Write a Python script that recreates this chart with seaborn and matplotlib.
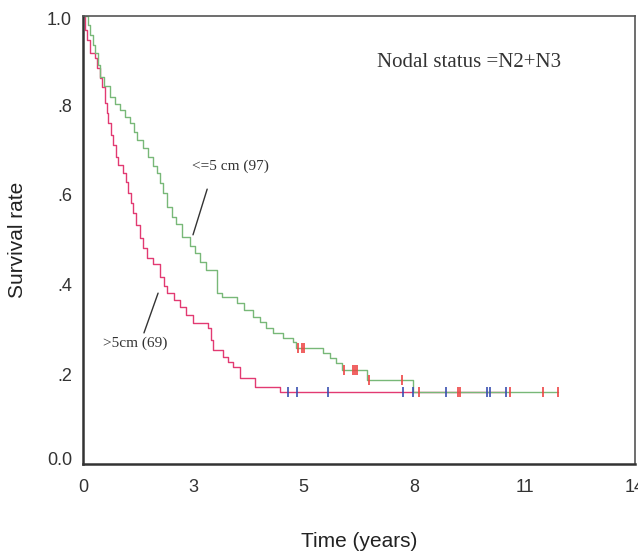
import numpy as np
import pandas as pd
import seaborn as sns
import matplotlib.pyplot as plt
import matplotlib.transforms as mtransforms

# <=5 cm group (97): step times (years) and survival after each step
small_t = [0, 0.12, 0.17, 0.25, 0.30, 0.37, 0.42, 0.52, 0.67, 0.80, 0.92, 1.05, 1.17,
           1.27, 1.34, 1.49, 1.62, 1.74, 1.84, 1.92, 1.99, 2.09, 2.22, 2.32, 2.47,
           2.66, 2.79, 2.91, 3.06, 3.34, 3.46, 3.84, 4.01, 4.23, 4.41, 4.56, 4.73,
           4.98, 5.23, 5.30, 5.98, 6.15, 6.30, 6.45, 7.07, 8.22]
small_s = [1.0, 0.979, 0.956, 0.934, 0.916, 0.890, 0.863, 0.843, 0.818, 0.803, 0.789,
           0.774, 0.760, 0.740, 0.722, 0.705, 0.685, 0.664, 0.649, 0.627, 0.604, 0.573,
           0.551, 0.535, 0.506, 0.486, 0.470, 0.450, 0.433, 0.381, 0.372, 0.359, 0.343,
           0.328, 0.317, 0.303, 0.292, 0.281, 0.272, 0.259, 0.247, 0.236, 0.225, 0.210,
           0.187, 0.161]
small_cens = [5.36, 5.45, 5.50, 6.50, 6.72, 6.77, 6.82, 7.12, 7.95, 8.37, 9.34, 9.39,
              10.63, 11.46, 11.83]

# >5 cm group (69)
large_t = [0, 0.05, 0.10, 0.17, 0.30, 0.35, 0.42, 0.47, 0.55, 0.60, 0.62, 0.70, 0.75,
           0.82, 0.87, 1.00, 1.07, 1.12, 1.20, 1.25, 1.32, 1.42, 1.49, 1.59, 1.74,
           1.92, 2.02, 2.09, 2.27, 2.42, 2.57, 2.74, 3.11, 3.19, 3.24, 3.49, 3.61,
           3.74, 3.91, 4.28, 4.91]
large_s = [1.0, 0.968, 0.945, 0.916, 0.905, 0.883, 0.861, 0.841, 0.805, 0.783, 0.760,
           0.734, 0.711, 0.685, 0.667, 0.649, 0.629, 0.604, 0.582, 0.560, 0.533, 0.504,
           0.482, 0.459, 0.446, 0.417, 0.397, 0.381, 0.366, 0.350, 0.332, 0.314, 0.303,
           0.276, 0.254, 0.239, 0.227, 0.216, 0.192, 0.172, 0.161]
large_cens = [5.11, 5.33, 6.10, 7.97, 8.22, 9.04, 10.06, 10.14, 10.54]

x_ticks = [0, 2.75, 5.5, 8.25, 11, 13.75]
x_labels = ["0", "3", "5", "8", "11", "14"]
y_ticks = [0, 0.2, 0.4, 0.6, 0.8, 1.0]
y_labels = ["0.0", ".2", ".4", ".6", ".8", "1.0"]


def curve(t, s, cens):
    t = np.array(t); s = np.array(s)
    t_line = np.append(t, max(cens))
    s_line = np.append(s, s[-1])
    idx = np.searchsorted(t, cens, side="right") - 1
    return pd.DataFrame({"t": t_line, "s": s_line}), pd.DataFrame({"t": cens, "s": s[idx]})


small_line, small_marks = curve(small_t, small_s, small_cens)
large_line, large_marks = curve(large_t, large_s, large_cens)

sns.set_style("white")
plt.rcParams["font.family"] = ["Liberation Sans", "DejaVu Sans"]

fig = plt.figure(figsize=(6.38, 5.52), dpi=100)
ax = fig.add_axes([0.1301, 0.1594, 0.8652, 0.8125])

sns.lineplot(data=large_line, x="t", y="s", drawstyle="steps-post", estimator=None,
             color="#e23a72", lw=1.0, ax=ax)
sns.lineplot(data=small_line, x="t", y="s", drawstyle="steps-post", estimator=None,
             color="#78b878", lw=1.0, ax=ax)
sns.scatterplot(data=large_marks, x="t", y="s", marker="|", s=60, linewidth=1.2,
                color="#3a4fb0", ax=ax, zorder=5)
sns.scatterplot(data=small_marks, x="t", y="s", marker="|", s=60, linewidth=1.2,
                color="#ee4444", ax=ax, zorder=5)

ax.set_xlim(0, 13.75)
ax.set_ylim(0, 1.0)
ax.set_xticks(x_ticks)
ax.set_xticklabels(x_labels)
ax.set_yticks(y_ticks)
ax.set_yticklabels(y_labels)
ax.tick_params(axis="both", direction="out", length=4, width=2.5, color="#333333",
               labelsize=13, labelcolor="#333333")
ax.tick_params(axis="x", pad=7)
ax.tick_params(axis="y", pad=4)
ax.set_xlabel("Time (years)", fontsize=15, color="#222222", labelpad=26)
ax.set_ylabel("Survival rate", fontsize=15, color="#222222", labelpad=14)

# SPSS nudges the end labels inside the axis range
ylab = ax.get_yticklabels()
ylab[0].set_transform(ylab[0].get_transform() +
                      mtransforms.ScaledTranslation(0, 6 / 100, fig.dpi_scale_trans))
ylab[-1].set_transform(ylab[-1].get_transform() +
                       mtransforms.ScaledTranslation(0, -3 / 100, fig.dpi_scale_trans))

for side in ["left", "bottom"]:
    ax.spines[side].set_color("#333333")
    ax.spines[side].set_linewidth(1.8)
for side in ["top", "right"]:
    ax.spines[side].set_visible(True)
    ax.spines[side].set_color("#555555")
    ax.spines[side].set_linewidth(1.2)

serif = ["Liberation Serif", "DejaVu Serif"]
ax.text(7.32, 0.896, "Nodal status =N2+N3", fontsize=15, family=serif,
        color="#333333", va="center")
ax.annotate("<=5 cm (97)", xy=(2.74, 0.511), xytext=(2.71, 0.664),
            fontsize=11, family=serif, color="#333333", va="center",
            arrowprops=dict(arrowstyle="-", color="#333333", lw=1.0,
                            shrinkA=0, shrinkB=0, relpos=(0.2, -1.2)))
ax.annotate(">5cm (69)", xy=(1.87, 0.381), xytext=(0.50, 0.270),
            fontsize=11, family=serif, color="#333333", va="center",
            arrowprops=dict(arrowstyle="-", color="#333333", lw=1.0,
                            shrinkA=0, shrinkB=0, relpos=(0.58, 0.5)))

fig.savefig("out.png", dpi=100)
